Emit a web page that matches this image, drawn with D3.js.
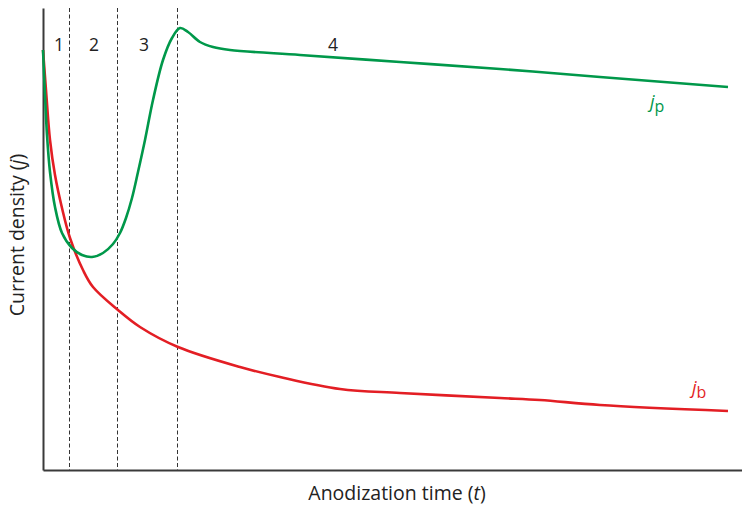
<!DOCTYPE html>
<html>
<head>
<meta charset="utf-8">
<script src="https://cdn.jsdelivr.net/npm/d3@7"></script>
<style>
  html, body { margin: 0; padding: 0; background: #fff; }
  svg { display: block; font-family: "Open Sans", "Noto Sans", sans-serif; }
</style>
</head>
<body>
<svg id="chart" width="742" height="506"></svg>
<script>
// Anodization current transients: pore-forming (jp) and barrier-type (jb)
const timeP = [0, 2, 4, 7, 12, 19, 29, 39, 49, 60, 70, 77, 83, 89, 95, 102, 110, 120, 129, 137, 145, 157, 170, 187, 257, 357, 457, 557, 685];
const jP    = [420, 375, 335, 298, 263, 237, 222, 215, 213, 217, 226, 237, 252, 272, 298, 330, 370, 410, 432, 442, 438, 428, 423, 420, 415, 408, 401, 393, 383];

const timeB = [0, 3, 7, 12, 19, 27, 40, 50, 75, 97, 135, 197, 237, 297, 357, 457, 497, 557, 685];
const jB    = [420, 380, 330, 295, 262, 232, 200, 183, 160, 143, 123, 103, 93, 81, 77, 72, 70, 65, 59];

// Stage boundaries and stage labels
const stageBounds = [26.5, 74.5, 134.5];
const stageLabels = ["1", "2", "3", "4"];
const stageLabelT = [16, 51, 101, 290];

const svg = d3.select("#chart");
const margin = { left: 43, top: 8, right: 0, bottom: 36 };
const H = 506;

const x = d3.scaleLinear().domain([0, 700]).range([margin.left, margin.left + 700]);
const y = d3.scaleLinear().domain([0, 462]).range([H - margin.bottom, margin.top]);

const green = "#00984a";
const red = "#e31e24";
const axisColor = "#3a3a3a";

// Stage boundary lines
svg.append("g").selectAll("line")
  .data(stageBounds)
  .join("line")
  .attr("x1", d => x(d)).attr("x2", d => x(d))
  .attr("y1", y(462)).attr("y2", y(0))
  .attr("stroke", "#333")
  .attr("stroke-width", 1)
  .attr("stroke-dasharray", "4,2.5");

// Stage numbers
svg.append("g").selectAll("text")
  .data(stageLabels)
  .join("text")
  .attr("x", (d, i) => x(stageLabelT[i]))
  .attr("y", 51)
  .attr("text-anchor", "middle")
  .attr("font-size", 17.5)
  .attr("fill", "#222")
  .text(d => d);

// Axes without ticks
svg.append("g")
  .attr("transform", `translate(0,${y(0)})`)
  .call(d3.axisBottom(x).tickValues([]).tickSizeOuter(0))
  .call(g => g.select(".domain").attr("stroke", axisColor).attr("stroke-width", 2));

svg.append("g")
  .attr("transform", `translate(${x(0)},0)`)
  .call(d3.axisLeft(y).tickValues([]).tickSizeOuter(0))
  .call(g => g.select(".domain").attr("stroke", axisColor).attr("stroke-width", 2));

// Curves
const line = d3.line().curve(d3.curveCatmullRom.alpha(0.5));

svg.append("path")
  .datum(timeB.map((t, i) => [x(t), y(jB[i])]))
  .attr("d", line)
  .attr("fill", "none")
  .attr("stroke", red)
  .attr("stroke-width", 2.6);

svg.append("path")
  .datum(timeP.map((t, i) => [x(t), y(jP[i])]))
  .attr("d", line)
  .attr("fill", "none")
  .attr("stroke", green)
  .attr("stroke-width", 2.6);

// Curve labels
function curveLabel(px, py, sub, color) {
  const t = svg.append("text")
    .attr("x", px).attr("y", py)
    .attr("font-size", 18)
    .attr("fill", color);
  t.append("tspan").attr("font-style", "italic").text("j");
  t.append("tspan").attr("dy", 4).attr("font-size", 16).text(sub);
}
curveLabel(650, 108, "p", green);
curveLabel(692, 394, "b", red);

// Axis titles
const xt = svg.append("text")
  .attr("x", 397).attr("y", 500)
  .attr("text-anchor", "middle")
  .attr("font-size", 19.5)
  .attr("fill", "#222");
xt.append("tspan").text("Anodization time (");
xt.append("tspan").attr("font-style", "italic").text("t");
xt.append("tspan").text(")");

const yt = svg.append("text")
  .attr("transform", "translate(24,235) rotate(-90)")
  .attr("text-anchor", "middle")
  .attr("font-size", 19.5)
  .attr("fill", "#222");
yt.append("tspan").text("Current density (");
yt.append("tspan").attr("font-style", "italic").text("j");
yt.append("tspan").text(")");
</script>
</body>
</html>
